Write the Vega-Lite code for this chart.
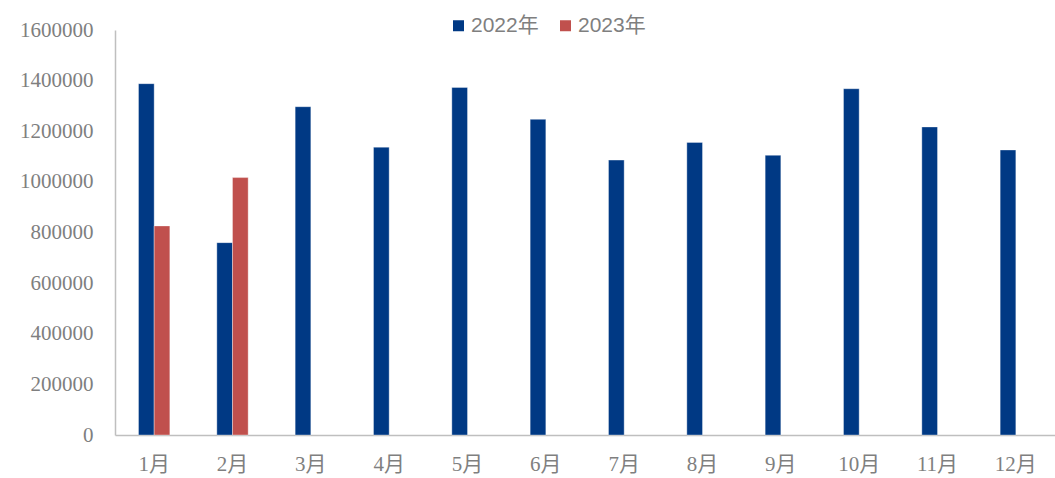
{
  "$schema": "https://vega.github.io/schema/vega-lite/v6.json",
  "width": 940,
  "height": 405,
  "autosize": {"type": "none"},
  "padding": {"left": 115, "top": 30, "right": 0, "bottom": 43},
  "background": "#ffffff",
  "config": {"view": {"stroke": null}},
  "data": {
    "values": [
      {"month": "1月", "year": "2022年", "value": 1388000},
      {"month": "2月", "year": "2022年", "value": 760000},
      {"month": "3月", "year": "2022年", "value": 1297000},
      {"month": "4月", "year": "2022年", "value": 1137000},
      {"month": "5月", "year": "2022年", "value": 1373000},
      {"month": "6月", "year": "2022年", "value": 1247000},
      {"month": "7月", "year": "2022年", "value": 1086000},
      {"month": "8月", "year": "2022年", "value": 1156000},
      {"month": "9月", "year": "2022年", "value": 1105000},
      {"month": "10月", "year": "2022年", "value": 1368000},
      {"month": "11月", "year": "2022年", "value": 1217000},
      {"month": "12月", "year": "2022年", "value": 1126000},
      {"month": "1月", "year": "2023年", "value": 826000},
      {"month": "2月", "year": "2023年", "value": 1017000}
    ]
  },
  "mark": {"type": "bar", "stroke": "#ffffff", "strokeOpacity": 0.35, "strokeWidth": 1},
  "encoding": {
    "x": {
      "field": "month",
      "type": "nominal",
      "sort": ["1月","2月","3月","4月","5月","6月","7月","8月","9月","10月","11月","12月"],
      "scale": {"paddingInner": 0.6, "paddingOuter": 0.3},
      "axis": {
        "title": null,
        "labelAngle": 0,
        "ticks": false,
        "domainColor": "#bfbfbf",
        "domainWidth": 1.5,
        "labelFont": "Liberation Serif, Noto Sans CJK SC",
        "labelFontSize": 21,
        "labelColor": "#7f7f7f",
        "labelPadding": 18
      }
    },
    "xOffset": {"field": "year", "type": "nominal", "scale": {"paddingInner": 0, "paddingOuter": 0}},
    "y": {
      "field": "value",
      "type": "quantitative",
      "scale": {"domain": [0, 1600000], "nice": false},
      "axis": {
        "title": null,
        "values": [0,200000,400000,600000,800000,1000000,1200000,1400000,1600000],
        "format": "d",
        "grid": false,
        "ticks": false,
        "domainColor": "#bfbfbf",
        "domainWidth": 1.5,
        "labelFont": "Liberation Serif",
        "labelFontSize": 21,
        "labelColor": "#7f7f7f",
        "labelPadding": 22
      }
    },
    "color": {
      "field": "year",
      "type": "nominal",
      "scale": {"domain": ["2022年", "2023年"], "range": ["#003984", "#C0504D"]},
      "legend": {
        "title": null,
        "orient": "none",
        "direction": "horizontal",
        "legendX": 333,
        "legendY": -15,
        "symbolType": "square",
        "symbolSize": 121,
        "symbolStrokeWidth": 0,
        "labelFont": "Liberation Sans, Noto Sans CJK SC",
        "labelFontSize": 21,
        "labelColor": "#7f7f7f",
        "columnPadding": 16,
        "labelOffset": 2
      }
    }
  }
}
